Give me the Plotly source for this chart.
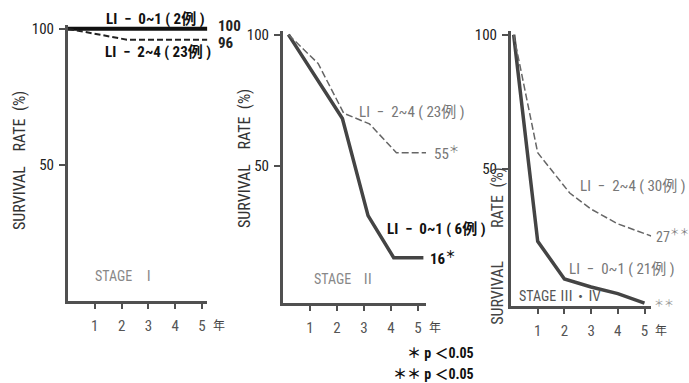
import plotly.graph_objects as go

W, H = 689, 383

# ---------------- data ----------------
tick_years = [1, 2, 3, 4, 5]
tick_labels = ["1", "2", "3", "4", "5"]
y_ticks = [50, 100]
y_tick_labels = ["50", "100"]

# Stage I
s1_lo_years = [0, 5.2]
s1_lo_rate = [100, 100]
s1_hi_years = [0, 2.2, 5.2]
s1_hi_rate = [100, 96, 96]

# Stage II
s2_lo_years = [0.2, 2.2, 3.15, 4.1, 5.2]
s2_lo_rate = [100, 68, 31, 15, 15]
s2_hi_years = [0.2, 1.3, 2.25, 3.2, 4.2, 5.3]
s2_hi_rate = [100, 89, 70, 66, 55, 55]

# Stage III/IV
s3_lo_years = [0.1, 1.0, 2.0, 3.0, 4.0, 5.0]
s3_lo_rate = [100, 23, 9, 6, 3.5, 0]
s3_hi_years = [0.1, 1.0, 2.2, 3.0, 4.0, 5.25]
s3_hi_rate = [100, 56, 41, 35, 29.5, 25]

NARROW = "Liberation Sans Narrow, Arial Narrow, Roboto Condensed, Liberation Sans, Noto Sans CJK JP, sans-serif"
NB = "\u00a0"


def px(x):
    return x / W


def py(y):
    return 1 - y / H


def li(a, n):
    return "LI" + NB * 2 + "−" + NB * 2 + a + NB + "(" + NB + n + "例" + NB + ")"


fig = go.Figure()

AX = "#505050"

panels = [
    # (x axis, y axis, x0 px, px per year, y domain px (top,bottom), x range, y range)
    ("x", "y", 68, 26.8, (20, 300), [0, 5.2], [0, 101.5]),
    ("x2", "y2", 283, 27.0, (26, 302), [0, 5.3], [-2.3, 101.5]),
    ("x3", "y3", 511, 26.7, (26, 305), [0, 5.25], [-1.1, 101.5]),
]

ann = []

for i, (xa, ya, x0, sc, yd, xr, yr) in enumerate(panels):
    xkey = "xaxis" if i == 0 else f"xaxis{i+1}"
    ykey = "yaxis" if i == 0 else f"yaxis{i+1}"
    fig.update_layout({
        xkey: dict(domain=[px(x0), px(x0 + xr[1] * sc)], range=xr, anchor=ya,
                   showline=True, linewidth=3, linecolor=AX, showgrid=False,
                   zeroline=False, ticks="outside", ticklen=5, tickwidth=1.5,
                   tickcolor=AX, tickvals=tick_years, ticktext=tick_labels,
                   ticklabelstandoff=4,
                   tickfont=dict(family=NARROW, size=15, color="#555")),
        ykey: dict(domain=[py(yd[1]), py(yd[0])], range=yr, anchor=xa,
                   showline=True, linewidth=3, linecolor=AX, showgrid=False,
                   zeroline=False, ticks="outside", ticklen=6, tickwidth=1.5,
                   tickcolor=AX, tickvals=y_ticks, ticktext=y_tick_labels,
                   ticklabelstandoff=2,
                   tickfont=dict(family=NARROW, size=15, color="#222")),
    })
    # unit label "年" right of the last tick label
    ann.append(dict(text="年", x=px(x0 + 5.62 * sc), y=py(yd[1] + 24),
                    xref="paper", yref="paper", xanchor="center", yanchor="middle",
                    showarrow=False,
                    font=dict(family="Noto Sans CJK JP, sans-serif", size=12, color="#444")))

# ---------------- curves ----------------
fig.add_trace(go.Scatter(x=s1_lo_years, y=s1_lo_rate, xaxis="x", yaxis="y", mode="lines",
                         line=dict(color="#111", width=4), showlegend=False))
fig.add_trace(go.Scatter(x=s1_hi_years, y=s1_hi_rate, xaxis="x", yaxis="y", mode="lines",
                         line=dict(color="#222", width=2, dash="6px,3px"), showlegend=False))

fig.add_trace(go.Scatter(x=s2_lo_years, y=s2_lo_rate, xaxis="x2", yaxis="y2", mode="lines",
                         line=dict(color="#444", width=3.5), showlegend=False))
fig.add_trace(go.Scatter(x=s2_hi_years, y=s2_hi_rate, xaxis="x2", yaxis="y2", mode="lines",
                         line=dict(color="#666", width=1.5, dash="7px,3px"), showlegend=False))

fig.add_trace(go.Scatter(x=s3_lo_years, y=s3_lo_rate, xaxis="x3", yaxis="y3", mode="lines",
                         line=dict(color="#444", width=3.5), showlegend=False))
fig.add_trace(go.Scatter(x=s3_hi_years, y=s3_hi_rate, xaxis="x3", yaxis="y3", mode="lines",
                         line=dict(color="#666", width=1.5, dash="7px,3px"), showlegend=False))


def txt(text, x, y, size=13, color="#222", xanchor="left", bold=False, angle=0, family=NARROW):
    ann.append(dict(text=f"<b>{text}</b>" if bold else text, x=px(x), y=py(y),
                    xref="paper", yref="paper", xanchor=xanchor, yanchor="middle",
                    showarrow=False, textangle=angle,
                    font=dict(family=family, size=size, color=color)))


def endlabel(text, xs, ys, xa, ya, shift, size=15, color="#222", bold=True, yshift=0):
    ann.append(dict(text=f"<b>{text}</b>" if bold else text, x=xs[-1], y=ys[-1],
                    xref=xa, yref=ya, xanchor="left", yanchor="middle",
                    xshift=shift, yshift=yshift, showarrow=False,
                    font=dict(family=NARROW, size=size, color=color)))


# axis titles
txt("SURVIVAL" + NB * 4 + "RATE" + NB * 2 + "(%)", 20, 158, size=16, color="#333", xanchor="center", angle=-90)
txt("SURVIVAL" + NB * 4 + "RATE" + NB * 2 + "(%)", 245, 156, size=16, color="#333", xanchor="center", angle=-90)
txt("SURVIVAL" + NB * 9 + "RATE" + NB * 2 + "(%)", 498, 245, size=16, color="#444", xanchor="center", angle=-90)

# panel 1
txt(li("0~1", "2"), 155, 14, size=15, color="#111", xanchor="center", bold=True)
txt(li("2~4", "23"), 158, 48, size=15, color="#111", xanchor="center", bold=True)
endlabel("100", s1_lo_years, s1_lo_rate, "x", "y", 9, yshift=3)
endlabel("96", s1_hi_years, s1_hi_rate, "x", "y", 9, yshift=-3)
txt("STAGE" + NB * 3 + "Ⅰ", 93, 275, size=14, color="#888")

# panel 2
txt(li("2~4", "23"), 357, 108, size=15, color="#777")
endlabel("55<sup>＊</sup>", s2_hi_years, s2_hi_rate, "x2", "y2", 6, color="#777", bold=False)
txt(li("0~1", "6"), 385, 227, size=15, color="#111", bold=True)
endlabel("16<sup>＊</sup>", s2_lo_years, s2_lo_rate, "x2", "y2", 5, color="#111")
txt("STAGE" + NB * 3 + "Ⅱ", 312, 278, size=14, color="#888")

# panel 3
txt(li("2~4", "30"), 578, 183, size=15, color="#777")
endlabel("27<sup>＊＊</sup>", s3_hi_years, s3_hi_rate, "x3", "y3", 3, size=14, color="#777", bold=False)
txt(li("0~1", "21"), 567, 267, size=15, color="#777")
endlabel("＊＊", s3_lo_years, s3_lo_rate, "x3", "y3", 7, size=10, color="#999", bold=False)
txt("STAGE" + NB + "Ⅲ・Ⅳ", 517, 295, size=14, color="#555")

# footnotes
txt("＊ p ＜0.05", 476, 353, size=14, color="#111", xanchor="right", bold=True)
txt("＊＊ p ＜0.05", 476, 374, size=14, color="#111", xanchor="right", bold=True)

fig.update_layout(width=W, height=H, margin=dict(l=0, r=0, t=0, b=0),
                  paper_bgcolor="white", plot_bgcolor="white",
                  annotations=ann, showlegend=False)

fig.write_html("out.html")
